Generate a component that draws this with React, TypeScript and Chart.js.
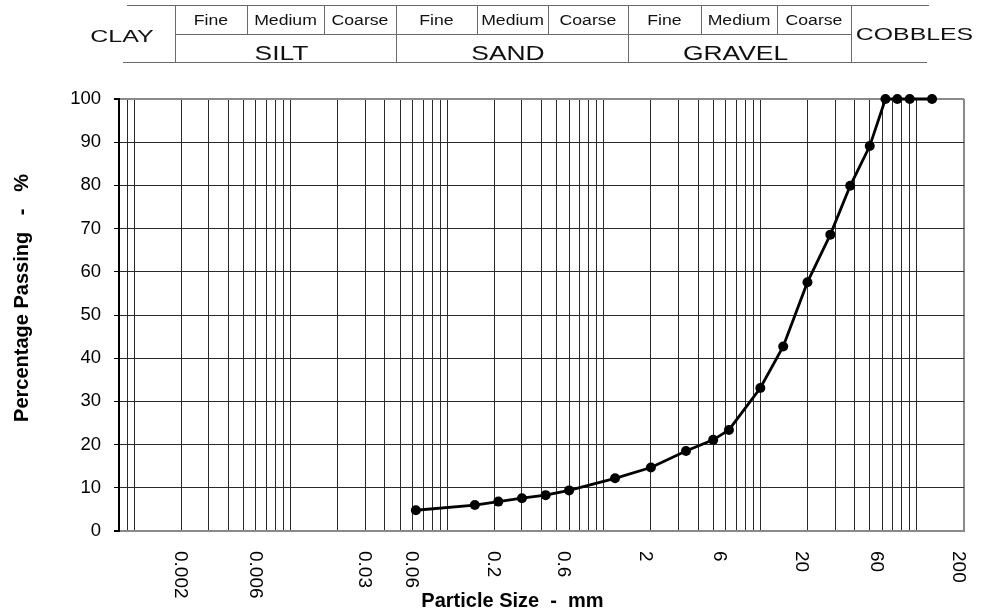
import React, { useEffect, useRef } from 'react';
import { Chart, registerables } from 'chart.js';

Chart.register(...registerables);

// ---- data ----
const particleSizes = [0.063, 0.15, 0.212, 0.3, 0.425, 0.6, 1.18, 2, 3.35, 5, 6.3, 10, 14, 20, 28, 37.5, 50, 63, 75, 90, 125];
const percentPassing = [4.8, 6.0, 6.8, 7.6, 8.3, 9.4, 12.2, 14.7, 18.5, 21.1, 23.4, 33.1, 42.7, 57.6, 68.6, 79.9, 89.1, 100, 100, 100, 100];

const xLabelValues = [0.002, 0.006, 0.03, 0.06, 0.2, 0.6, 2, 6, 20, 60, 200];
const xLabelTexts = ['0.002', '0.006', '0.03', '0.06', '0.2', '0.6', '2', '6', '20', '60', '200'];

const subFractions = ['Fine', 'Medium', 'Coarse'];
const mainFractions = ['SILT', 'SAND', 'GRAVEL'];
const endFractions = ['CLAY', 'COBBLES'];

const X_MIN = 0.0008;
const X_MAX = 200;

const gridValues: number[] = [];
for (let e = -4; e <= 2; e++) {
  for (let m = 1; m <= 9; m++) {
    const v = parseFloat((m * Math.pow(10, e)).toPrecision(3));
    if (v >= X_MIN - 1e-12 && v <= X_MAX + 1e-9) gridValues.push(v);
  }
}

const FONT = '"Liberation Sans", Arial, sans-serif';

function stretchText(ctx: CanvasRenderingContext2D, text: string, cx: number, baseline: number, font: string, sx: number) {
  ctx.save();
  ctx.font = font;
  ctx.textAlign = 'center';
  ctx.textBaseline = 'alphabetic';
  ctx.fillStyle = '#111';
  ctx.translate(cx, baseline);
  ctx.scale(sx, 1);
  ctx.fillText(text, 0, 0);
  ctx.restore();
}

function seg(ctx: CanvasRenderingContext2D, x1: number, y1: number, x2: number, y2: number) {
  ctx.beginPath();
  ctx.moveTo(x1, y1);
  ctx.lineTo(x2, y2);
  ctx.stroke();
}

const decorPlugin = {
  id: 'decor',
  afterDraw(chart: any) {
    const ctx: CanvasRenderingContext2D = chart.ctx;
    const xs = chart.scales.x;

    // ---- header classification table ----
    ctx.save();
    ctx.strokeStyle = '#6a6a6a';
    ctx.lineWidth = 1;
    const yTop = 5.5, yMid = 34.5, yBot = 62.5;
    seg(ctx, 127, yTop, 929, yTop);
    seg(ctx, 175, yMid, 851, yMid);
    seg(ctx, 123, yBot, 927, yBot);
    const fullCols = [175.5, 396.5, 628.5, 851.5];
    fullCols.forEach((x) => seg(ctx, x, yTop, x, yBot));
    const subCols = [247.5, 324.5, 477.5, 548.5, 701.5, 777.5];
    subCols.forEach((x) => seg(ctx, x, yTop, x, yMid));
    ctx.restore();

    const cellEdges = [175, 247, 324, 396, 477, 548, 628, 701, 777, 851];
    for (let g = 0; g < 3; g++) {
      for (let s = 0; s < 3; s++) {
        const i = g * 3 + s;
        const cx = (cellEdges[i] + cellEdges[i + 1]) / 2;
        stretchText(ctx, subFractions[s], cx, 24.5, `14px ${FONT}`, 1.26);
      }
      const mx = (cellEdges[g * 3] + cellEdges[g * 3 + 3]) / 2 - 4;
      stretchText(ctx, mainFractions[g], mx, 59.5, `20px ${FONT}`, 1.32);
    }
    stretchText(ctx, endFractions[0], 122, 41.5, `17px ${FONT}`, 1.47);
    stretchText(ctx, endFractions[1], 914.5, 39.5, `17px ${FONT}`, 1.46);

    // ---- x tick labels (rotated, reading top to bottom) ----
    ctx.save();
    ctx.fillStyle = '#000';
    ctx.font = `19px ${FONT}`;
    ctx.textAlign = 'left';
    ctx.textBaseline = 'middle';
    xLabelValues.forEach((v, i) => {
      const px = xs.getPixelForValue(v) + (v >= 0.5 ? -6 : -1);
      ctx.save();
      ctx.translate(px, 551);
      ctx.rotate(Math.PI / 2);
      ctx.fillText(xLabelTexts[i], 0, 0);
      ctx.restore();
    });
    ctx.restore();

    // ---- axis titles ----
    ctx.save();
    ctx.fillStyle = '#000';
    ctx.font = `bold 20px ${FONT}`;
    ctx.textAlign = 'center';
    ctx.textBaseline = 'alphabetic';
    ctx.fillText('Particle Size  -  mm', 512.5, 606.5);
    ctx.translate(27.5, 298);
    ctx.rotate(-Math.PI / 2);
    ctx.fillText('Percentage Passing   -   %', 0, 0);
    ctx.restore();
  },
};

export default function App() {
  const canvasRef = useRef<HTMLCanvasElement | null>(null);

  useEffect(() => {
    const canvas = canvasRef.current;
    if (!canvas) return;
    const chart = new Chart(canvas, {
      type: 'line',
      data: {
        datasets: [
          {
            data: particleSizes.map((x, i) => ({ x, y: percentPassing[i] })),
            borderColor: '#000',
            backgroundColor: '#000',
            borderWidth: 2.8,
            pointRadius: 5,
            pointBackgroundColor: '#000',
            pointBorderColor: '#000',
            pointBorderWidth: 0,
            tension: 0,
            fill: false,
            clip: false,
          },
        ],
      },
      options: {
        responsive: false,
        devicePixelRatio: 1,
        animation: false,
        layout: { padding: { top: 99, right: 24, bottom: 82, left: 0 } },
        plugins: {
          legend: { display: false },
          tooltip: { enabled: false },
          title: { display: false },
        },
        scales: {
          x: {
            type: 'logarithmic',
            position: 'bottom',
            min: X_MIN,
            max: X_MAX,
            afterBuildTicks: (scale: any) => {
              scale.ticks = gridValues.map((v) => ({ value: v }));
            },
            ticks: { display: false, autoSkip: false },
            grid: {
              drawTicks: false,
              lineWidth: (c: any) => (c.tick && Math.abs(c.tick.value - X_MAX) < 1e-6 ? 2 : 1),
              color: (c: any) => (c.tick && Math.abs(c.tick.value - X_MAX) < 1e-6 ? '#8a8a8a' : '#2a2a2a'),
            },
            border: { display: true, color: '#8a8a8a', width: 2 },
          },
          y: {
            type: 'linear',
            min: 0,
            max: 100,
            afterFit: (scale: any) => {
              scale.width = 119;
            },
            ticks: {
              stepSize: 10,
              color: '#000',
              font: { family: FONT, size: 18.5 },
              padding: 13,
            },
            grid: {
              drawTicks: true,
              tickLength: 5,
              tickColor: '#000',
              lineWidth: (c: any) => (c.tick && (c.tick.value === 100 || c.tick.value === 0) ? 2 : 1),
              color: (c: any) => (c.tick && (c.tick.value === 100 || c.tick.value === 0) ? '#8a8a8a' : '#2a2a2a'),
            },
            border: { display: true, color: '#000', width: 2 },
          },
        },
      },
      plugins: [decorPlugin],
    } as any);
    return () => chart.destroy();
  }, []);

  return (
    <div style={{ position: 'absolute', left: 0, top: 0, width: 988, height: 613, background: '#fff' }}>
      <canvas ref={canvasRef} width={988} height={613} style={{ width: 988, height: 613, display: 'block' }} />
    </div>
  );
}
